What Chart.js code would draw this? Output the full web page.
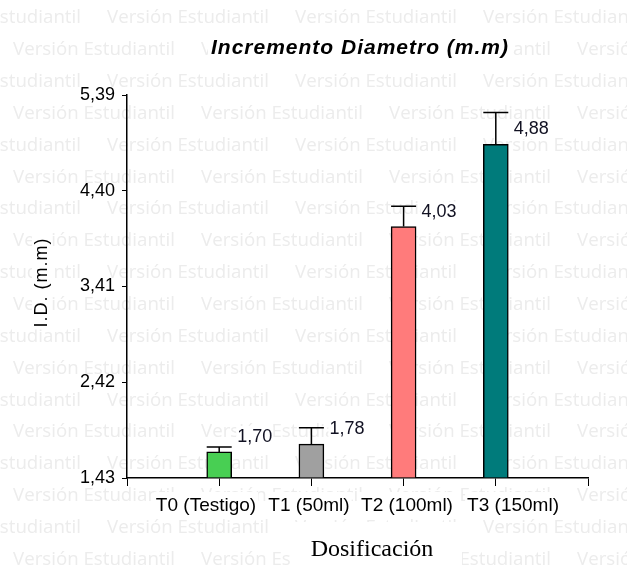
<!DOCTYPE html>
<html><head><meta charset="utf-8">
<script src="https://cdn.jsdelivr.net/npm/chart.js@4.4.1/dist/chart.umd.min.js"></script>
<style>html,body{margin:0;padding:0;background:#fff}#wrap{width:627px;height:565px}</style>
</head><body><div id="wrap"><canvas id="c" width="627" height="565"></canvas></div>
<script>
// ---- data ----
const categories = ['T0 (Testigo)', 'T1 (50ml)', 'T2 (100ml)', 'T3 (150ml)'];
const means = [1.70, 1.78, 4.03, 4.88];
const errors = [0.05, 0.17, 0.21, 0.33];
const valueLabels = ['1,70', '1,78', '4,03', '4,88'];
const yTicks = [1.43, 2.42, 3.41, 4.40, 5.39];
const barColors = ['#48cf53', '#a0a0a0', '#ff7b7b', '#007b7b'];
const titleText = 'Incremento Diametro (m.m)';
const yTitle = 'I.D. (m.m)';
const xTitle = 'Dosificación';
const watermark = 'Versión Estudiantil';

// ---- layout options ----
const labelCenters = [0.857, 1.974, 3.037, 4.187];
const SANS = '"Liberation Sans", Arial, sans-serif';

const deco = {
  id: 'deco',
  beforeDraw(chart) {
    const ctx = chart.ctx;
    ctx.save();
    ctx.fillStyle = '#fff';
    ctx.fillRect(0, 0, chart.width, chart.height);
    let size = 16;
    ctx.font = size + 'px "Open Sans"';
    size = size * 162 / ctx.measureText(watermark).width;
    ctx.font = size + 'px "Open Sans"';
    ctx.fillStyle = '#ececec';
    ctx.textBaseline = 'middle';
    ctx.textAlign = 'left';
    for (let i = 0; i < 18; i++) {
      const yy = 18 + 31.85 * i;
      const x0 = (i % 2) ? 13 : -81;
      for (let xx = x0; xx < chart.width; xx += 188) ctx.fillText(watermark, xx, yy);
    }
    ctx.restore();
  },
  afterDatasetsDraw(chart) {
    const ctx = chart.ctx, ys = chart.scales.y;
    const meta = chart.getDatasetMeta(0);
    ctx.save();
    means.forEach((m, i) => {
      const el = meta.data[i + 1];
      const cx = el.x, half = el.width / 2;
      const top = ys.getPixelForValue(m + errors[i]);
      const bt = ys.getPixelForValue(m);
      ctx.strokeStyle = '#000';
      ctx.lineWidth = 1.5;
      ctx.beginPath();
      ctx.moveTo(cx, bt); ctx.lineTo(cx, top);
      ctx.moveTo(cx - half, top); ctx.lineTo(cx + half, top);
      ctx.stroke();
      ctx.font = '18px ' + SANS;
      ctx.textAlign = 'left';
      ctx.textBaseline = 'middle';
      const tx = cx + 18, ty = bt - 15;
      const w = ctx.measureText(valueLabels[i]).width;
      ctx.fillStyle = '#fff';
      ctx.fillRect(tx - 1, ty - 10, w + 2, 20);
      ctx.fillStyle = '#111122';
      ctx.fillText(valueLabels[i], tx, ty);
    });
    ctx.restore();
  },
  afterDraw(chart) {
    const ctx = chart.ctx, ca = chart.chartArea;
    ctx.save();
    // title
    ctx.font = 'italic bold 21px ' + SANS;
    ctx.letterSpacing = '1px';
    ctx.textAlign = 'center';
    ctx.textBaseline = 'middle';
    let w = ctx.measureText(titleText).width;
    ctx.fillStyle = '#fff';
    ctx.fillRect(360 - w / 2 - 3, 36, w + 6, 25);
    ctx.fillStyle = '#000';
    ctx.fillText(titleText, 360, 48);
    // y title
    ctx.font = '18px ' + SANS;
    ctx.letterSpacing = '1px';
    w = ctx.measureText(yTitle).width;
    ctx.translate(42, (ca.top + ca.bottom) / 2 - 4);
    ctx.rotate(-Math.PI / 2);
    ctx.fillStyle = '#fff';
    ctx.fillRect(-w / 2 - 2, -10, w + 4, 20);
    ctx.fillStyle = '#000';
    ctx.fillText(yTitle, 0, 0);
    ctx.setTransform(1, 0, 0, 1, 0, 0);
    // x title
    ctx.letterSpacing = '0px';
    ctx.font = '24px "Liberation Serif", "Times New Roman", serif';
    ctx.fillStyle = '#fff';
    ctx.fillRect(290, 522, 172, 43);
    ctx.fillStyle = '#000';
    ctx.fillText(xTitle, 372, 550);
    ctx.restore();
  }
};

new Chart(document.getElementById('c'), {
  type: 'bar',
  data: {
    labels: ['', ...categories, ''],
    datasets: [{
      data: [null, ...means, null],
      backgroundColor: ['#fff', ...barColors, '#fff'],
      borderColor: '#000',
      borderWidth: 1.5,
      barThickness: 25,
      base: yTicks[0],
      xAxisID: 'x',
      yAxisID: 'y'
    }]
  },
  options: {
    responsive: false,
    animation: false,
    devicePixelRatio: 1,
    layout: { padding: { left: 0, right: 39, top: 95, bottom: 0 } },
    plugins: { legend: { display: false }, tooltip: { enabled: false }, title: { display: false } },
    scales: {
      x: {
        type: 'category',
        position: 'bottom',
        offset: false,
        grid: { display: true, drawOnChartArea: false, offset: false, tickLength: 8, color: '#000', lineWidth: 1 },
        border: { display: true, color: '#000', width: 1.5 },
        ticks: { display: false },
        afterFit(s) { s.height = 8; }
      },
      x2: {
        type: 'linear',
        position: 'bottom',
        min: 0, max: 5,
        offset: false,
        bounds: 'data',
        grid: { display: false, drawTicks: false, offset: false },
        border: { display: false },
        afterBuildTicks(s) { s.ticks = labelCenters.map(v => ({ value: v })); },
        ticks: {
          autoSkip: false, maxRotation: 0, minRotation: 0,
          padding: 8,
          color: '#000',
          font: { family: SANS, size: 19 },
          showLabelBackdrop: true,
          backdropColor: '#fff',
          backdropPadding: 2,
          callback: (v, i) => categories[i]
        },
        afterFit(s) { s.height = 79; }
      },
      y: {
        type: 'linear',
        min: yTicks[0], max: yTicks[yTicks.length - 1],
        grid: { display: true, drawOnChartArea: false, tickLength: 5, color: '#000', lineWidth: 1 },
        border: { display: true, color: '#000', width: 1.5 },
        afterBuildTicks(s) { s.ticks = yTicks.map(v => ({ value: v })); },
        ticks: {
          padding: 7,
          color: '#000',
          font: { family: SANS, size: 18 },
          callback: v => v.toFixed(2).replace('.', ',')
        },
        afterFit(s) { s.width = 127; }
      }
    }
  },
  plugins: [deco]
});
</script>
</body></html>
